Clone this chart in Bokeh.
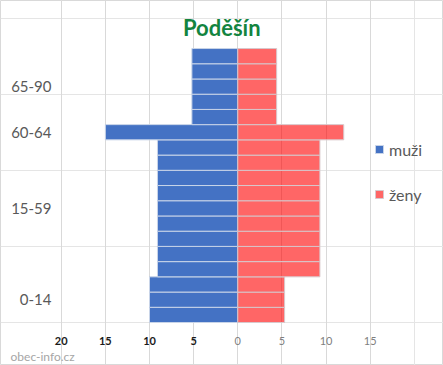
from bokeh.plotting import figure
from bokeh.models import (Range1d, FixedTicker, ColumnDataSource, Grid,
                          Legend, LegendItem)
from bokeh.core.properties import value
from bokeh.embed import file_html
from bokeh.resources import INLINE

# ---- data ----
title = "Poděšín"
groups = ["0-14", "15-59", "60-64", "65-90"]
rows_per_group = [3, 9, 1, 5]          # 5-year rows in each group
muzi = [10.0, 9.1, 15.0, 5.2]          # men per row
zeny = [5.3, 9.3, 12.0, 4.4]           # women per row
x_ticks_left = [-20, -15, -10, -5]
x_ticks_right = [0, 5, 10, 15]
series_names = ["muži", "ženy"]
source_note = "obec-info.cz"

# expand groups into rows
ys, m_vals, z_vals, centers = [], [], [], []
start = 0
for n, m, z in zip(rows_per_group, muzi, zeny):
    for i in range(n):
        ys.append(start + i + 0.5)
        m_vals.append(m)
        z_vals.append(z)
    centers.append(start + n / 2)
    start += n
total_rows = start

src = ColumnDataSource(dict(y=ys, m=[-v for v in m_vals], z=z_vals,
                            zero=[0] * len(ys)))

FONT = "Lato"
W, H = 443, 365
# frame covers the whole canvas; ranges chosen so that the scale matches the reference
p = figure(width=W, height=H, output_backend="svg", toolbar_location=None,
           x_range=Range1d(-26.877, 23.298), y_range=Range1d(-2.825, 21.156),
           x_axis_location=None, y_axis_location=None,
           min_border=0, min_border_left=0, min_border_right=0,
           min_border_top=0, min_border_bottom=0, title=None)
p.outline_line_color = "#d9d9d9"
p.background_fill_color = "white"
p.border_fill_color = "white"

p.add_layout(Grid(dimension=0, ticker=FixedTicker(ticks=x_ticks_left + x_ticks_right),
                  grid_line_color="#d9d9d9", bounds=(0, total_rows)))

r_m = p.hbar(y="y", left="m", right="zero", height=1, source=src,
             fill_color="#4472C4", line_color="#c8d4e8", line_width=1)
r_z = p.hbar(y="y", left="zero", right="z", height=1, source=src,
             fill_color="#FF0000", fill_alpha=0.6,
             line_color="#d8c8cc", line_width=1)

# y category labels
p.text(x=[-21.1] * len(groups), y=centers, text=groups, text_align="right",
       text_baseline="middle", text_font=value(FONT), text_font_size="15px",
       text_color="#595959")

# x tick labels (left side dark, right side grey)
lab_y = -1.222
p.text(x=x_ticks_left, y=[lab_y] * len(x_ticks_left),
       text=[str(abs(v)) for v in x_ticks_left], text_align="center",
       text_baseline="middle", text_font=value(FONT), text_font_size="11px",
       text_font_style="bold", text_color="#1a1a1a")
p.text(x=x_ticks_right, y=[lab_y] * len(x_ticks_right),
       text=[str(abs(v)) for v in x_ticks_right], text_align="center",
       text_baseline="middle", text_font=value(FONT), text_font_size="11px",
       text_color="#7f7f7f")

# title
p.text(x=[-1.82], y=[19.41], text=[title], text_align="center",
       text_baseline="middle", text_font=value(FONT), text_font_size="22px",
       text_font_style="bold", text_color="#13843F")
# source note
p.text(x=[-25.74], y=[-2.254], text=[source_note], text_align="left",
       text_baseline="middle", text_font=value(FONT), text_font_size="12px",
       text_color="#a6a6a6")

legend = Legend(items=[LegendItem(label=series_names[0], renderers=[r_m]),
                       LegendItem(label=series_names[1], renderers=[r_z])],
                location=(374, 161), padding=0, margin=0, spacing=25,
                border_line_color=None, background_fill_alpha=0,
                label_text_font=FONT, label_text_font_size="16px",
                label_text_color="#595959", glyph_width=10, glyph_height=10,
                label_height=20, label_standoff=5)
p.add_layout(legend)

open("out.html", "w").write(file_html(p, INLINE))
